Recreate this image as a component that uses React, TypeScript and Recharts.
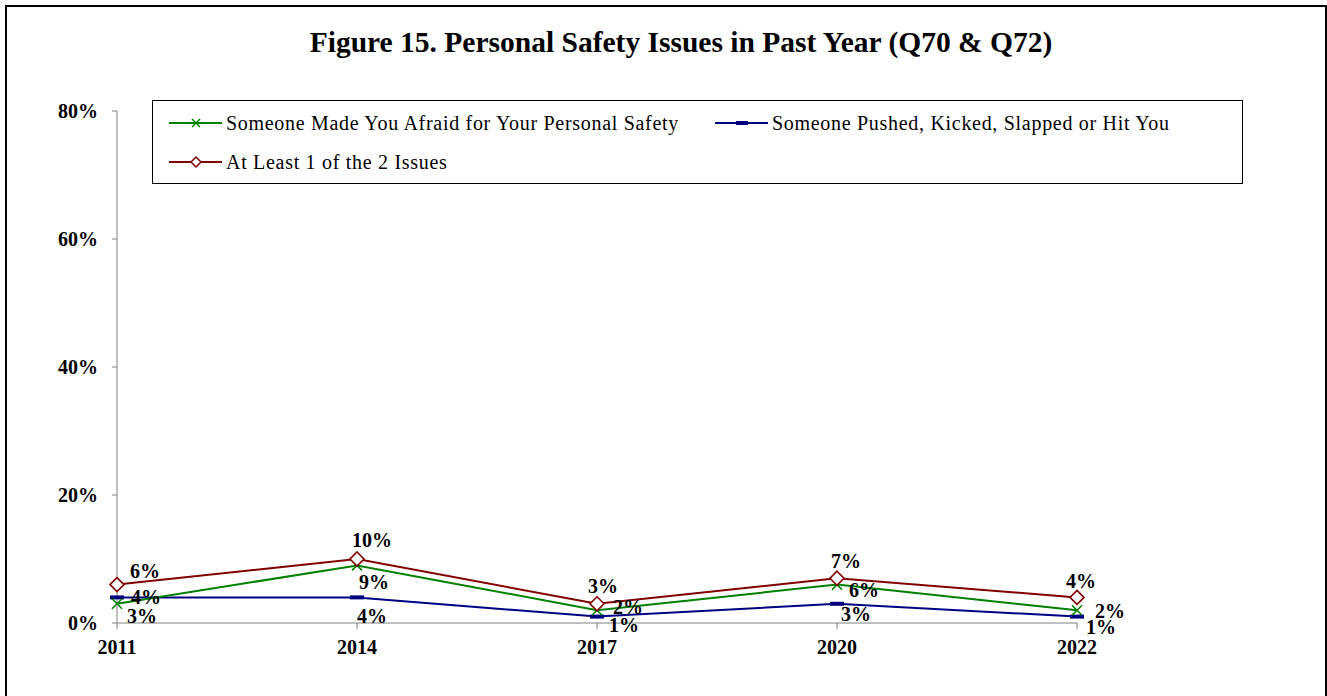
import React from "react";
import { LineChart, Line, XAxis, YAxis, Legend, LabelList } from "recharts";

const years = ["2011", "2014", "2017", "2020", "2022"];
const afraid = [3, 9, 2, 6, 2];
const pushed = [4, 4, 1, 3, 1];
const atLeastOne = [6, 10, 3, 7, 4];
const yTicks = [0, 20, 40, 60, 80];

const seriesNames = {
  afraid: "Someone Made You Afraid for Your Personal Safety",
  pushed: "Someone Pushed, Kicked, Slapped or Hit You",
  atLeastOne: "At Least 1 of the 2 Issues",
};

const data = years.map((y, i) => ({
  year: y,
  afraid: afraid[i],
  pushed: pushed[i],
  atLeastOne: atLeastOne[i],
}));

// label offsets (dx, dy) from the point, per series and point index
const labelOffsets: Record<string, [number, number][]> = {
  atLeastOne: [[28, -14], [15, -19], [6, -18], [9, -17], [4, -16]],
  afraid: [[25, 12], [17, 17], [31, -3], [27, 5], [33, 1]],
  pushed: [[29, 0], [15, 19], [27, 8], [19, 10], [24, 10]],
};

const FONT = "'Liberation Serif', 'Times New Roman', Times, serif";
const GREEN = "#008000";
const BLUE = "#000080";
const RED = "#800000";

const makeLabel = (key: string) => (props: any) => {
  const { x, y, value, index } = props;
  const [dx, dy] = labelOffsets[key][index];
  return (
    <text
      x={x + dx}
      y={y + dy}
      textAnchor="middle"
      dominantBaseline="central"
      fontFamily={FONT}
      fontWeight="bold"
      fontSize={20}
      fill="#000"
    >
      {value}%
    </text>
  );
};

const XDot = (props: any) => {
  const { cx, cy, index } = props;
  if (cx == null || cy == null) return null;
  const s = 5;
  return (
    <g key={"x" + index}>
      <line x1={cx - s} y1={cy - s} x2={cx + s} y2={cy + s} stroke={GREEN} strokeWidth={1.6} />
      <line x1={cx - s} y1={cy + s} x2={cx + s} y2={cy - s} stroke={GREEN} strokeWidth={1.6} />
    </g>
  );
};

const DashDot = (props: any) => {
  const { cx, cy, index } = props;
  if (cx == null || cy == null) return null;
  return <rect key={"d" + index} x={cx - 7} y={cy - 2} width={14} height={4} fill={BLUE} />;
};

const DiamondDot = (props: any) => {
  const { cx, cy, index } = props;
  if (cx == null || cy == null) return null;
  const s = 7;
  return (
    <path
      key={"m" + index}
      d={`M${cx},${cy - s} L${cx + s},${cy} L${cx},${cy + s} L${cx - s},${cy} Z`}
      fill="#fff"
      stroke={RED}
      strokeWidth={1.6}
    />
  );
};

const LegendSample = ({ color, kind }: { color: string; kind: string }) => (
  <svg width={57} height={14} style={{ display: "block" }}>
    <line x1={0} y1={7} x2={53} y2={7} stroke={color} strokeWidth={2} />
    {kind === "x" && (
      <g>
        <line x1={23} y1={3} x2={31} y2={11} stroke={color} strokeWidth={1.5} />
        <line x1={23} y1={11} x2={31} y2={3} stroke={color} strokeWidth={1.5} />
      </g>
    )}
    {kind === "dash" && <rect x={21} y={5} width={12} height={4} fill={color} />}
    {kind === "diamond" && (
      <path d="M27,2 L32,7 L27,12 L22,7 Z" fill="#fff" stroke={color} strokeWidth={1.5} />
    )}
  </svg>
);

const LegendContent = () => {
  const itemStyle = (left: number, top: number): React.CSSProperties => ({
    position: "absolute",
    left,
    top,
    display: "flex",
    alignItems: "center",
    whiteSpace: "nowrap",
    fontFamily: FONT,
    fontSize: 20,
    letterSpacing: 0.7,
    lineHeight: "24px",
    color: "#000",
  });
  return (
    <div
      style={{
        position: "relative",
        width: 1091,
        height: 84,
        border: "1px solid #000",
        boxSizing: "border-box",
        background: "#fff",
      }}
    >
      <div style={itemStyle(16, 10)}>
        <LegendSample color={GREEN} kind="x" />
        <span>{seriesNames.afraid}</span>
      </div>
      <div style={itemStyle(562, 10)}>
        <LegendSample color={BLUE} kind="dash" />
        <span>{seriesNames.pushed}</span>
      </div>
      <div style={itemStyle(16, 49)}>
        <LegendSample color={RED} kind="diamond" />
        <span>{seriesNames.atLeastOne}</span>
      </div>
    </div>
  );
};

export default function App() {
  return (
    <div style={{ position: "absolute", left: 0, top: 0, width: 1327, height: 696, background: "#fff", overflow: "hidden" }}>
      <div
        style={{
          position: "absolute",
          left: 5,
          top: 5,
          width: 1322,
          height: 720,
          border: "2px solid #000",
          boxSizing: "border-box",
        }}
      />
      <div
        style={{
          position: "absolute",
          left: 0,
          top: 27,
          width: 1362,
          textAlign: "center",
          fontFamily: FONT,
          fontWeight: "bold",
          fontSize: 29.5,
          lineHeight: "30px",
          color: "#000",
          whiteSpace: "nowrap",
        }}
      >
        Figure 15. Personal Safety Issues in Past Year (Q70 &amp; Q72)
      </div>
      <div style={{ position: "absolute", left: 0, top: 0 }}>
        <LineChart
          width={1327}
          height={696}
          data={data}
          margin={{ top: 111, left: 57, right: 250, bottom: 43 }}
        >
          <XAxis
            dataKey="year"
            height={30}
            stroke="#808080"
            tickSize={6}
            tickMargin={11}
            interval={0}
            tick={{ fontFamily: FONT, fontWeight: "bold", fontSize: 20, fill: "#000" }}
          />
          <YAxis
            width={60}
            domain={[0, 80]}
            ticks={yTicks}
            tickFormatter={(v: number) => `${v}%`}
            stroke="#808080"
            tickSize={5}
            tickMargin={14}
            tick={{ fontFamily: FONT, fontWeight: "bold", fontSize: 20, fill: "#000" }}
          />
          <Legend
            layout="horizontal"
            verticalAlign="middle"
            align="center"
            content={<LegendContent />}
            wrapperStyle={{ position: "absolute", left: 152, top: 100, width: 1091, height: 84 }}
          />
          <Line
            dataKey="pushed"
            name={seriesNames.pushed}
            stroke={BLUE}
            strokeWidth={2}
            dot={DashDot}
            isAnimationActive={false}
          >
            <LabelList dataKey="pushed" content={makeLabel("pushed")} />
          </Line>
          <Line
            dataKey="afraid"
            name={seriesNames.afraid}
            stroke={GREEN}
            strokeWidth={2}
            dot={XDot}
            isAnimationActive={false}
          >
            <LabelList dataKey="afraid" content={makeLabel("afraid")} />
          </Line>
          <Line
            dataKey="atLeastOne"
            name={seriesNames.atLeastOne}
            stroke={RED}
            strokeWidth={2}
            dot={DiamondDot}
            isAnimationActive={false}
          >
            <LabelList dataKey="atLeastOne" content={makeLabel("atLeastOne")} />
          </Line>
        </LineChart>
      </div>
    </div>
  );
}
